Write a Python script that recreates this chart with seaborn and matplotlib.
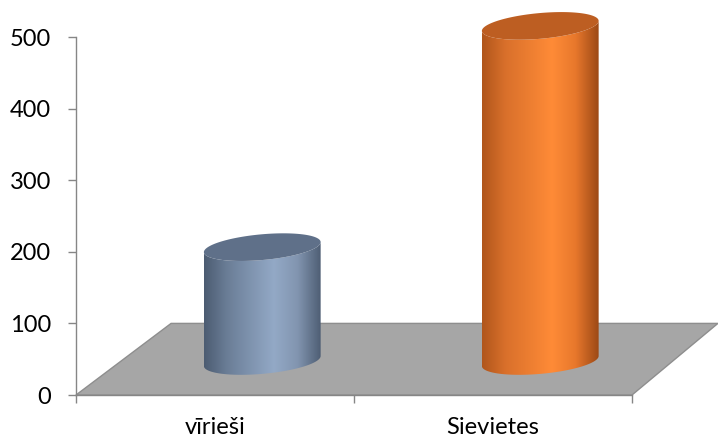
import numpy as np
import matplotlib
matplotlib.use("Agg")
import matplotlib.pyplot as plt
from matplotlib.colors import LinearSegmentedColormap
from matplotlib.patches import Polygon, PathPatch
from matplotlib.path import Path
import seaborn as sns

# data
categories = ["vīrieši", "Sievietes"]
values = [159, 468]
y_ticks = [0, 100, 200, 300, 400, 500]

# look of the 3D cylinders
body_stops = [
    ["#4c5c72", "#6b7e97", "#93a9c6", "#8295b0", "#4e5e74"],
    ["#b0561c", "#d9702b", "#ff8b37", "#e8782c", "#9c4915"],
]
top_colors = ["#5f7089", "#bd5e22"]
DX, DY = 0.17, 47.5      # depth offset of the bar bases (x in category units, y in value units)
RY, SH = 18.0, 7.0       # half height and tilt of the ellipses, value units
YMAX = 545               # room above the axis for the cylinder caps

sns.set_theme(style="white")
plt.rcParams["font.family"] = ["Lato", "DejaVu Sans"]

fig = plt.figure(figsize=(7.18, 4.38), dpi=100)
ax = fig.add_axes([76 / 718, 43 / 438, 556 / 718, YMAX * 0.716 / 438])
ax.set_facecolor("none")

sns.barplot(x=categories, y=values, width=0.42, ax=ax, color="white")
bars = list(ax.patches)


def ellipse(cx, cy, hw, t):
    return np.column_stack([cx + hw * np.cos(t), cy + RY * np.sin(t) + SH * np.cos(t)])


# floor of the 3D plot
floor = Polygon([(-0.5, 0), (1.5, 0), (1.809, 100), (-0.158, 100)], closed=True,
                facecolor="#a6a6a6", edgecolor="#8e8e8e", lw=1.0, zorder=1, clip_on=False)
ax.add_patch(floor)

for k, bar in enumerate(bars):
    x0 = bar.get_x() + DX
    w = bar.get_width()
    h = bar.get_height()
    bar.set_visible(False)
    cx, hw = x0 + w / 2, w / 2
    ybot, ytop = DY, DY + h

    # body: front half of the bottom ellipse up to the front half of the top one
    front = np.linspace(np.pi, 2 * np.pi, 80)
    bottom = ellipse(cx, ybot, hw, front)
    top = ellipse(cx, ytop, hw, front[::-1])
    verts = np.vstack([bottom, top, bottom[:1]])
    clip = PathPatch(Path(verts, closed=True), transform=ax.transData,
                     facecolor="none", edgecolor="none")
    ax.add_patch(clip)
    cmap = LinearSegmentedColormap.from_list(
        f"cyl{k}", list(zip([0, 0.2, 0.6, 0.8, 1], body_stops[k])))
    img = ax.imshow(np.linspace(0, 1, 256)[None, :], cmap=cmap, aspect="auto",
                    extent=[cx - hw, cx + hw, ybot - 25, ytop + 25],
                    zorder=3, interpolation="bilinear")
    img.set_clip_path(clip)

    cap = ellipse(cx, ytop, hw, np.linspace(0, 2 * np.pi, 160))
    ax.add_patch(Polygon(cap, closed=True, facecolor=top_colors[k],
                         edgecolor="none", zorder=4, clip_on=False))

ax.set_xlim(-0.5, 1.5)
ax.set_ylim(0, YMAX)
ax.set_yticks(y_ticks)
ax.set_xticks([-0.5, 0.5, 1.5])
ax.set_xticklabels([])
ax.set_xticks([0, 1], minor=True)
ax.set_xticklabels(categories, minor=True)
ax.set_xlabel("")
ax.set_ylabel("")

for side in ["top", "right"]:
    ax.spines[side].set_visible(False)
for side in ["left", "bottom"]:
    ax.spines[side].set_color("#868686")
    ax.spines[side].set_linewidth(1.0)
    ax.spines[side].set_zorder(5)
ax.spines["left"].set_bounds(0, 500)

ax.tick_params(axis="y", which="major", direction="out", length=6, width=1,
               color="#868686", pad=12, labelsize=17, labelcolor="black", left=True)
ax.tick_params(axis="x", which="major", direction="out", length=6, width=1,
               color="#868686", bottom=True)
ax.tick_params(axis="x", which="minor", length=0, pad=16, labelsize=17,
               labelcolor="black", bottom=True)

fig.savefig("out.png", dpi=100)
